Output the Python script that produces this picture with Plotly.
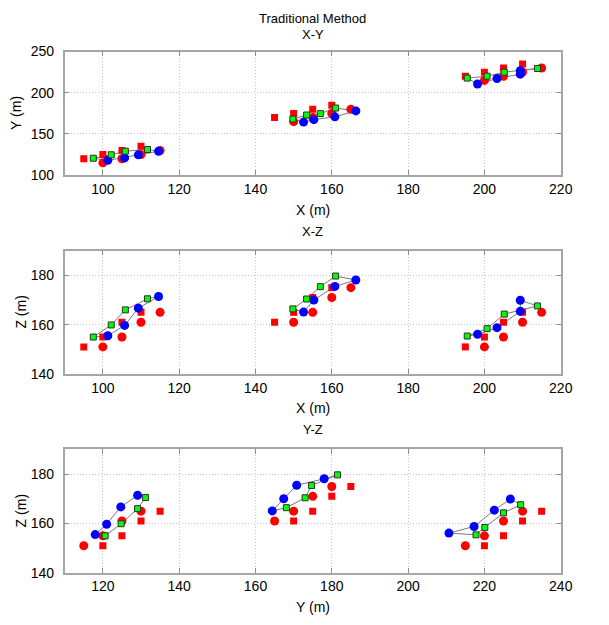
import plotly.graph_objects as go

# Reference targets (red squares) in metres
ref_sq_x = [95, 100, 105, 110, 145, 150, 155, 160, 195, 200, 205, 210]
ref_sq_y = [120, 125, 130, 135, 170, 175, 180, 185, 220, 225, 230, 235]
ref_sq_z = [151, 155, 161, 165, 161, 165, 171, 175, 151, 155, 161, 165]

# Reference targets (red circles)
ref_ci_x = [100, 105, 110, 115, 150, 155, 160, 165, 200, 205, 210, 215]
ref_ci_y = [115, 120, 125, 130, 165, 170, 175, 180, 215, 220, 225, 230]
ref_ci_z = [151, 155, 161, 165, 161, 165, 171, 175, 151, 155, 161, 165]

# Estimated positions, set A (blue circles)
est_a_x = [101.3, 105.7, 109.3, 114.6, 152.6, 155.3, 160.8, 166.3, 198.2, 203.3, 209.4, 209.4]
est_a_y = [118.0, 121.0, 124.7, 129.1, 164.4, 167.4, 170.8, 178.0, 210.7, 217.3, 222.6, 226.8]
est_a_z = [155.5, 159.7, 166.7, 171.4, 165.1, 170.0, 175.5, 178.1, 156.1, 158.8, 165.4, 169.9]

# Estimated positions, set B (green squares)
est_b_x = [97.5, 102.2, 105.9, 111.7, 149.8, 153.4, 157.0, 161.0, 195.5, 200.7, 205.2, 213.9]
est_b_y = [120.6, 124.8, 129.1, 131.2, 168.1, 173.0, 174.7, 181.5, 217.8, 220.1, 225.0, 229.5]
est_b_z = [155.0, 159.9, 166.0, 170.5, 166.4, 170.4, 175.4, 179.7, 155.4, 158.4, 164.3, 167.6]

GROUP = 4  # points per cluster

x_ticks_xy = [100, 120, 140, 160, 180, 200, 220]
y_ticks_xy = [100, 150, 200, 250]
z_ticks = [140, 160, 180]
y_ticks_yz = [120, 140, 160, 180, 200, 220, 240]

coords = {
    "x": (ref_sq_x, ref_ci_x, est_a_x, est_b_x),
    "y": (ref_sq_y, ref_ci_y, est_a_y, est_b_y),
    "z": (ref_sq_z, ref_ci_z, est_a_z, est_b_z),
}

panels = [("x", "y", "x", "y"), ("x", "z", "x2", "y2"), ("y", "z", "x3", "y3")]

fig = go.Figure()


def loop(a, b, k):
    """Closed outline: set B forwards, then set A backwards, back to start."""
    s = slice(k * GROUP, (k + 1) * GROUP)
    return list(b[s]) + list(a[s])[::-1] + [b[k * GROUP]]


for h, v, xa, ya in panels:
    hs, hc, ha, hb = coords[h]
    vs, vc, va, vb = coords[v]
    for k in range(3):
        fig.add_trace(go.Scatter(
            x=loop(ha, hb, k), y=loop(va, vb, k), xaxis=xa, yaxis=ya,
            mode="lines", line=dict(color="#7a7a7a", width=1),
            showlegend=False, hoverinfo="skip"))
    fig.add_trace(go.Scatter(x=hs, y=vs, xaxis=xa, yaxis=ya, mode="markers",
                             marker=dict(symbol="square", size=7, color="#ff0000",
                                         line=dict(width=0)), showlegend=False))
    fig.add_trace(go.Scatter(x=hc, y=vc, xaxis=xa, yaxis=ya, mode="markers",
                             marker=dict(symbol="circle", size=9, color="#ff0000",
                                         line=dict(width=0)), showlegend=False))
    fig.add_trace(go.Scatter(x=ha, y=va, xaxis=xa, yaxis=ya, mode="markers",
                             marker=dict(symbol="circle", size=9, color="#0000ff",
                                         line=dict(width=0)), showlegend=False))
    fig.add_trace(go.Scatter(x=hb, y=vb, xaxis=xa, yaxis=ya, mode="markers",
                             marker=dict(symbol="square", size=6, color="#00ff00",
                                         line=dict(width=1, color="#303030")),
                             showlegend=False))

FONT = dict(family="Liberation Sans, Arial, sans-serif", size=14, color="#000000")
TFONT = dict(FONT, size=13)
W, H = 609, 625
XL, XR = 66 / W, 572 / W


def ydom(top, bottom):
    return [1 - bottom / H, 1 - top / H]


axis_common = dict(
    showline=True, linecolor="#a6a6a6", linewidth=1.5, mirror="ticks",
    ticks="inside", ticklen=5, tickcolor="#8c8c8c", tickwidth=1,
    showgrid=True, gridcolor="#c8c8c8", griddash="1px,2px", gridwidth=1,
    zeroline=False, tickfont=FONT,
)

fig.update_layout(
    width=W, height=H, margin=dict(l=0, r=0, t=0, b=0),
    paper_bgcolor="#ffffff", plot_bgcolor="#ffffff", font=FONT,
    xaxis=dict(domain=[XL, XR], range=[90, 220], tickvals=x_ticks_xy,
               anchor="y", **axis_common),
    yaxis=dict(domain=ydom(44.7, 171.6), range=[100, 250], tickvals=y_ticks_xy,
               anchor="x", ticklabelstandoff=6, **axis_common),
    xaxis2=dict(domain=[XL, XR], range=[90, 220], tickvals=x_ticks_xy,
                anchor="y2", **axis_common),
    yaxis2=dict(domain=ydom(249, 375.7), range=[140, 190], tickvals=z_ticks,
                anchor="x2", ticklabelstandoff=6, **axis_common),
    xaxis3=dict(domain=[XL, XR], range=[110, 240], tickvals=y_ticks_yz,
                anchor="y3", **axis_common),
    yaxis3=dict(domain=ydom(453, 579.7), range=[140, 190], tickvals=z_ticks,
                anchor="x3", ticklabelstandoff=6, **axis_common),
)

xc = (66 + 572) / 2 / W


def note(text, x, y, angle=0, font=FONT):
    fig.add_annotation(text=text, x=x, y=1 - y / H, xref="paper", yref="paper",
                       showarrow=False, xanchor="center", yanchor="middle",
                       textangle=angle, font=font)


note("Traditional Method", xc, 11, font=TFONT)
note("X-Y", xc, 27, font=TFONT)
note("X-Z", xc, 229, font=TFONT)
note("Y-Z", xc, 433, font=TFONT)
note("X (m)", xc, 207)
note("X (m)", xc, 411)
note("Y (m)", xc, 615)
note("Y (m)", 17 / W, 108, -90)
note("Z (m)", 21 / W, 312, -90)
note("Z (m)", 21 / W, 516, -90)

fig.write_html("out.html")
